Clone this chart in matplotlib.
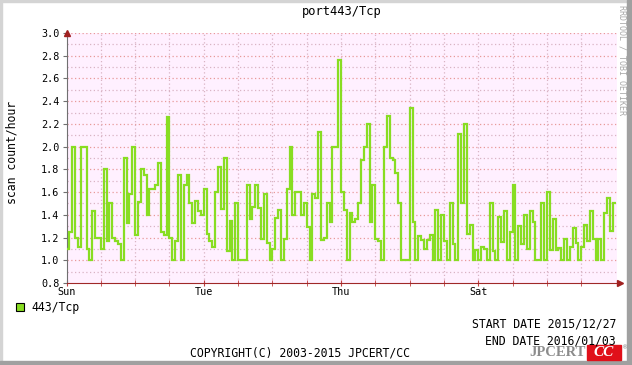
#!/usr/bin/env python
import numpy as np
import matplotlib
matplotlib.use("Agg")
import matplotlib.pyplot as plt
from matplotlib.patches import Rectangle

# hourly scan counts, Sun 2015/12/27 00:00 onward
counts = [
    1.10, 1.25, 2.00, 1.20, 1.12, 2.00, 2.00, 1.10, 1.00, 1.43,
    1.20, 1.20, 1.10, 1.80, 1.17, 1.50, 1.20, 1.17, 1.14, 1.00,
    1.90, 1.33, 1.58, 2.00, 1.22, 1.51, 1.80, 1.75, 1.40, 1.63,
    1.63, 1.66, 1.86, 1.25, 1.22, 2.26, 1.20, 1.00, 1.17, 1.75,
    1.00, 1.66, 1.75, 1.50, 1.33, 1.52, 1.43, 1.40, 1.63, 1.23,
    1.17, 1.12, 1.60, 1.82, 1.45, 1.90, 1.08, 1.35, 1.00, 1.50,
    1.00, 1.00, 1.00, 1.66, 1.36, 1.47, 1.66, 1.46, 1.19, 1.58,
    1.15, 1.00, 1.10, 1.37, 1.44, 1.00, 1.19, 1.63, 2.00, 1.40,
    1.60, 1.60, 1.40, 1.50, 1.29, 1.00, 1.58, 1.55, 2.13, 1.18,
    1.20, 1.50, 1.34, 2.00, 2.00, 2.76, 1.60, 1.44, 1.00, 1.42,
    1.34, 1.36, 1.50, 1.88, 2.00, 2.20, 1.34, 1.66, 1.19, 1.17,
    1.00, 2.00, 2.27, 1.90, 1.88, 1.77, 1.50, 1.00, 1.00, 1.00,
    2.34, 1.34, 1.00, 1.21, 1.18, 1.10, 1.18, 1.22, 1.00, 1.44,
    1.00, 1.40, 1.17, 1.00, 1.50, 1.14, 1.00, 2.11, 1.50, 2.20,
    1.23, 1.31, 1.00, 1.09, 1.00, 1.12, 1.10, 1.00, 1.50, 1.08,
    1.00, 1.38, 1.16, 1.43, 1.00, 1.25, 1.66, 1.00, 1.30, 1.14,
    1.40, 1.10, 1.43, 1.34, 1.00, 1.00, 1.50, 1.00, 1.60, 1.09,
    1.36, 1.09, 1.11, 1.00, 1.19, 1.00, 1.12, 1.28, 1.15, 1.00,
    1.12, 1.31, 1.17, 1.43, 1.19, 1.00, 1.19, 1.00, 1.42, 1.55,
    1.26, 1.50,
]
day_labels = ["Sun", "Tue", "Thu", "Sat"]
day_hours = [0, 48, 96, 144]
series_name = "443/Tcp"
title = "port443/Tcp"
start_date = "2015/12/27"
end_date = "2016/01/03"

mono = "DejaVu Sans Mono"
plt.rcParams['font.family'] = mono

W, H = 632, 365
fig = plt.figure(figsize=(W / 100, H / 100), dpi=100)
fig.patch.set_facecolor("white")

# frame like rrdtool's 3d border
fig.patches.append(Rectangle((0, 1 - 2 / H), 1, 2 / H, transform=fig.transFigure, color="#d4d4d4", zorder=0))
fig.patches.append(Rectangle((0, 0), 2 / W, 1, transform=fig.transFigure, color="#d4d4d4", zorder=0))
fig.patches.append(Rectangle((1 - 5 / W, 0), 5 / W, 1, transform=fig.transFigure, color="#a0a0a0", zorder=0))
fig.patches.append(Rectangle((0, 0), 1, 4 / H, transform=fig.transFigure, color="#a0a0a0", zorder=0))

ax = fig.add_axes([66.5 / W, 1 - 283 / H, (617 - 66.5) / W, (283 - 33) / H])
ax.set_facecolor("#fff0ff")

edges = np.arange(len(counts) + 1)
ax.stairs(counts, edges, baseline=None, color="#88dd22", linewidth=1.6, zorder=3)

ax.set_xlim(0, 192.5)
ax.set_ylim(0.8, 3.0)

ax.set_yticks(np.arange(0.8, 3.01, 0.2))
ax.set_yticks(np.arange(0.9, 3.0, 0.2), minor=True)
ax.set_yticklabels(["%.1f" % v for v in np.arange(0.8, 3.01, 0.2)], fontsize=7.3)
ax.set_xticks(day_hours)
ax.set_xticklabels(day_labels, fontsize=7.3)
ax.set_xticks(np.arange(12, 192, 12), minor=True)

# grid
for y in np.arange(1.0, 3.01, 0.2):
    ax.axhline(y, color="#e89a9a", linestyle=(0, (1, 2)), linewidth=0.9, zorder=1)
for y in np.arange(0.9, 3.0, 0.2):
    ax.axhline(y, color="#d9b4c4", linestyle=(0, (1, 2)), linewidth=0.9, zorder=1)
for xh in np.arange(12, 192, 12):
    ax.axvline(xh, color="#d9b4c4", linestyle=(0, (1, 2)), linewidth=0.9, zorder=1)

for s in ["top", "right"]:
    ax.spines[s].set_visible(False)
ax.spines["left"].set_color("#707070")
ax.spines["bottom"].set_color("#a02828")
ax.tick_params(axis="y", which="major", length=3, color="#707070", pad=2, labelcolor="black")
ax.tick_params(axis="y", which="minor", length=0)
ax.tick_params(axis="x", which="both", direction="inout", length=4, color="#c04040", pad=1)

# axis arrows
ax.plot([0], [3.0], marker="^", color="#a02020", markersize=5, clip_on=False, zorder=5)
ax.plot([1.005], [0], marker=">", color="#a02020", markersize=5, clip_on=False,
        transform=ax.transAxes, zorder=5)

fig.text(342 / W, 1 - 12 / H, title, ha="center", va="center", fontsize=8.7)
fig.text(12 / W, 1 - 152 / H, "scan count/hour", ha="center", va="center",
         rotation=90, fontsize=8.3)
fig.text(622 / W, 1 - 5 / H, "RRDTOOL / TOBI OETIKER", ha="center", va="top",
         rotation=270, fontsize=6, color="#a8a8a8")

# legend
fig.patches.append(Rectangle((15.5 / W, 1 - 310.5 / H), 8 / W, 8 / H, transform=fig.transFigure,
                             facecolor="#88dd22", edgecolor="black", linewidth=0.8))
fig.text(31 / W, 1 - 308 / H, series_name, ha="left", va="center", fontsize=8.3)

fig.text(616 / W, 1 - 324 / H, "START DATE " + start_date, ha="right", va="center", fontsize=8.3)
fig.text(616 / W, 1 - 341 / H, "END DATE " + end_date, ha="right", va="center", fontsize=8.3)
fig.text(300 / W, 1 - 353 / H, "COPYRIGHT(C) 2003-2015 JPCERT/CC", ha="center", va="center", fontsize=8.3)

# logo
fig.text(586 / W, 1 - 353 / H, "JPCERT", ha="right", va="center", fontsize=10.5,
         family="Liberation Serif", weight="bold", color="#8c8c8c")
fig.patches.append(Rectangle((587 / W, 1 - 360 / H), 34 / W, 15 / H, transform=fig.transFigure,
                             color="#e0101a"))
fig.text(604 / W, 1 - 353 / H, "CC", ha="center", va="center", fontsize=11,
         family="Liberation Serif", weight="bold", style="italic", color="white")
fig.text(625 / W, 1 - 347 / H, "\u00ae", ha="center", va="center", fontsize=5, color="#8c8c8c")

fig.savefig("out.png", dpi=100)
